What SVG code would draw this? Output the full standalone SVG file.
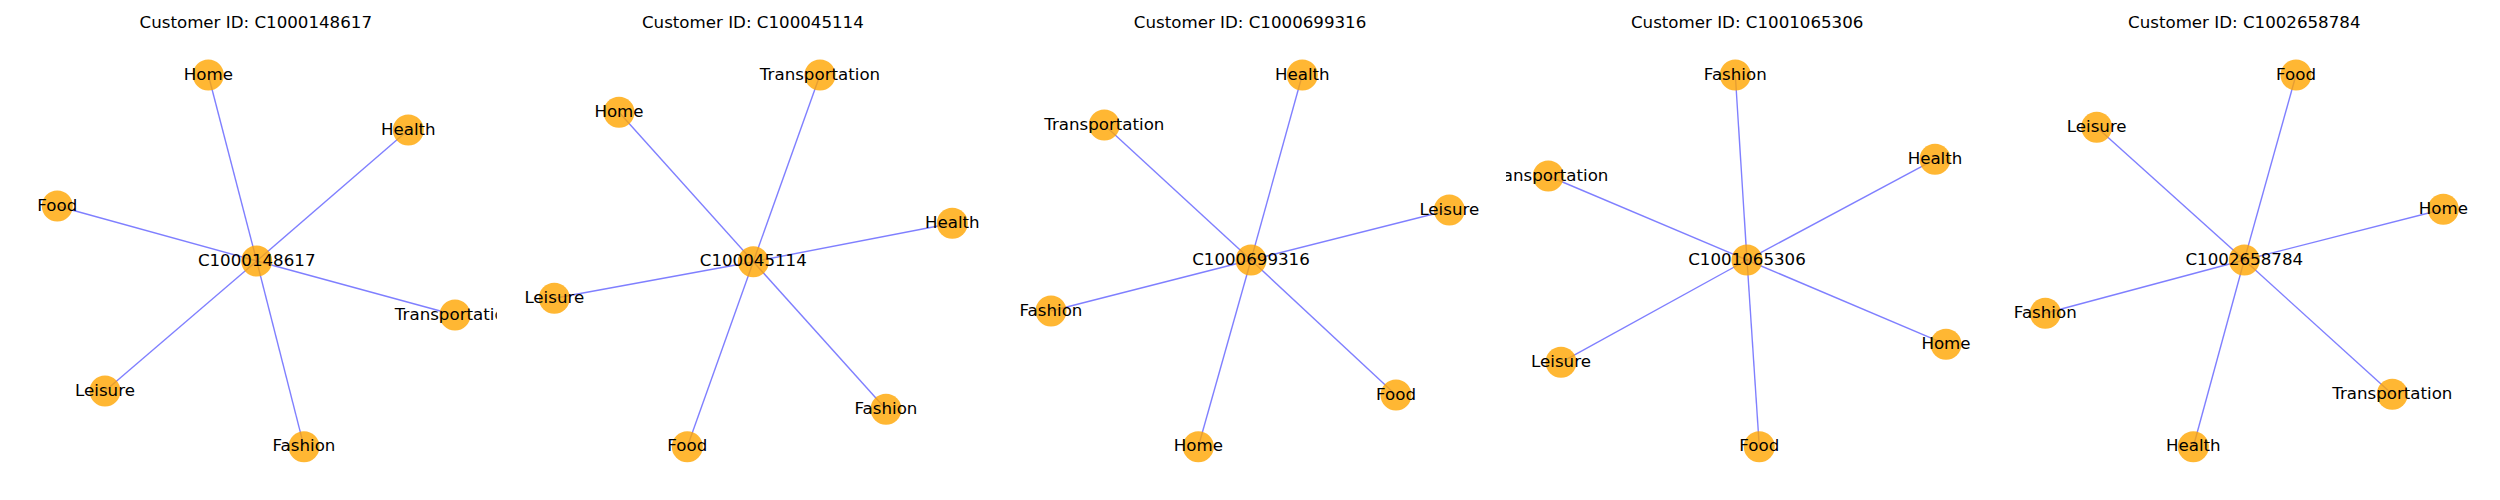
<svg xmlns="http://www.w3.org/2000/svg" width="2500" height="500" viewBox="0 0 2500 500">
<style>
text{font-family:"DejaVu Sans","Liberation Sans",sans-serif;font-size:16.67px;fill:#000;text-anchor:middle}
.e{stroke:#0000ff;stroke-opacity:0.5;stroke-width:1.4;fill:none}
.n{fill:#ffa500;fill-opacity:0.8}
</style>
<defs>
<clipPath id="c1"><rect x="14.8" y="0" width="482" height="500"/></clipPath>
<clipPath id="c2"><rect x="511.9" y="0" width="482" height="500"/></clipPath>
<clipPath id="c3"><rect x="1009" y="0" width="482" height="500"/></clipPath>
<clipPath id="c4"><rect x="1506.1" y="0" width="482" height="500"/></clipPath>
<clipPath id="c5"><rect x="2003.2" y="0" width="482" height="500"/></clipPath>
</defs>
<rect width="2500" height="500" fill="#fff"/>
<g id="titles">
<text x="255.8" y="28.3">Customer ID: C1000148617</text>
<text x="752.9" y="28.3">Customer ID: C100045114</text>
<text x="1250.1" y="28.3">Customer ID: C1000699316</text>
<text x="1747.2" y="28.3">Customer ID: C1001065306</text>
<text x="2244.3" y="28.3">Customer ID: C1002658784</text>
</g>
<g id="connectors">
<line class="e" x1="256.7" y1="261" x2="208.3" y2="75"/>
<line class="e" x1="256.7" y1="261" x2="408.3" y2="130"/>
<line class="e" x1="256.7" y1="261" x2="57.3" y2="206"/>
<line class="e" x1="256.7" y1="261" x2="455" y2="315"/>
<line class="e" x1="256.7" y1="261" x2="105" y2="391"/>
<line class="e" x1="256.7" y1="261" x2="304" y2="446.7"/>

<line class="e" x1="753.3" y1="261.7" x2="820" y2="75"/>
<line class="e" x1="753.3" y1="261.7" x2="619" y2="112.3"/>
<line class="e" x1="753.3" y1="261.7" x2="952.3" y2="223.3"/>
<line class="e" x1="753.3" y1="261.7" x2="554.3" y2="298.3"/>
<line class="e" x1="753.3" y1="261.7" x2="886" y2="409.3"/>
<line class="e" x1="753.3" y1="261.7" x2="687.3" y2="446.7"/>

<line class="e" x1="1251" y1="260" x2="1302.3" y2="75"/>
<line class="e" x1="1251" y1="260" x2="1104.3" y2="125"/>
<line class="e" x1="1251" y1="260" x2="1449.3" y2="210"/>
<line class="e" x1="1251" y1="260" x2="1051" y2="311"/>
<line class="e" x1="1251" y1="260" x2="1396" y2="395"/>
<line class="e" x1="1251" y1="260" x2="1198.3" y2="446.7"/>

<line class="e" x1="1747" y1="260" x2="1735.3" y2="75"/>
<line class="e" x1="1747" y1="260" x2="1935" y2="159.3"/>
<line class="e" x1="1747" y1="260" x2="1548.3" y2="176"/>
<line class="e" x1="1747" y1="260" x2="1946" y2="344.3"/>
<line class="e" x1="1747" y1="260" x2="1561" y2="362.3"/>
<line class="e" x1="1747" y1="260" x2="1759.3" y2="446.7"/>

<line class="e" x1="2244.3" y1="260" x2="2296" y2="75"/>
<line class="e" x1="2244.3" y1="260" x2="2096.7" y2="127.3"/>
<line class="e" x1="2244.3" y1="260" x2="2443.3" y2="209.3"/>
<line class="e" x1="2244.3" y1="260" x2="2045.3" y2="313.3"/>
<line class="e" x1="2244.3" y1="260" x2="2392.3" y2="394.3"/>
<line class="e" x1="2244.3" y1="260" x2="2193.3" y2="446.7"/>
</g>

<g id="panel1" clip-path="url(#c1)">
<g id="p1-center"><circle class="n" cx="256.7" cy="261" r="15.5"/><text x="256.7" y="265.6">C1000148617</text></g>
<g id="p1-home"><circle class="n" cx="208.3" cy="75" r="15.5"/><text x="208.3" y="79.6">Home</text></g>
<g id="p1-health"><circle class="n" cx="408.3" cy="130" r="15.5"/><text x="408.3" y="134.6">Health</text></g>
<g id="p1-food"><circle class="n" cx="57.3" cy="206" r="15.5"/><text x="57.3" y="210.6">Food</text></g>
<g id="p1-transportation"><circle class="n" cx="455" cy="315" r="15.5"/><text x="455" y="319.6">Transportation</text></g>
<g id="p1-leisure"><circle class="n" cx="105" cy="391" r="15.5"/><text x="105" y="395.6">Leisure</text></g>
<g id="p1-fashion"><circle class="n" cx="304" cy="446.7" r="15.5"/><text x="304" y="451.3">Fashion</text></g>
</g>

<g id="panel2" clip-path="url(#c2)">
<g id="p2-center"><circle class="n" cx="753.3" cy="261.7" r="15.5"/><text x="753.3" y="266.3">C100045114</text></g>
<g id="p2-transportation"><circle class="n" cx="820" cy="75" r="15.5"/><text x="820" y="79.6">Transportation</text></g>
<g id="p2-home"><circle class="n" cx="619" cy="112.3" r="15.5"/><text x="619" y="116.9">Home</text></g>
<g id="p2-health"><circle class="n" cx="952.3" cy="223.3" r="15.5"/><text x="952.3" y="227.9">Health</text></g>
<g id="p2-leisure"><circle class="n" cx="554.3" cy="298.3" r="15.5"/><text x="554.3" y="302.9">Leisure</text></g>
<g id="p2-fashion"><circle class="n" cx="886" cy="409.3" r="15.5"/><text x="886" y="413.9">Fashion</text></g>
<g id="p2-food"><circle class="n" cx="687.3" cy="446.7" r="15.5"/><text x="687.3" y="451.3">Food</text></g>
</g>

<g id="panel3" clip-path="url(#c3)">
<g id="p3-center"><circle class="n" cx="1251" cy="260" r="15.5"/><text x="1251" y="264.6">C1000699316</text></g>
<g id="p3-health"><circle class="n" cx="1302.3" cy="75" r="15.5"/><text x="1302.3" y="79.6">Health</text></g>
<g id="p3-transportation"><circle class="n" cx="1104.3" cy="125" r="15.5"/><text x="1104.3" y="129.6">Transportation</text></g>
<g id="p3-leisure"><circle class="n" cx="1449.3" cy="210" r="15.5"/><text x="1449.3" y="214.6">Leisure</text></g>
<g id="p3-fashion"><circle class="n" cx="1051" cy="311" r="15.5"/><text x="1051" y="315.6">Fashion</text></g>
<g id="p3-food"><circle class="n" cx="1396" cy="395" r="15.5"/><text x="1396" y="399.6">Food</text></g>
<g id="p3-home"><circle class="n" cx="1198.3" cy="446.7" r="15.5"/><text x="1198.3" y="451.3">Home</text></g>
</g>

<g id="panel4" clip-path="url(#c4)">
<g id="p4-center"><circle class="n" cx="1747" cy="260" r="15.5"/><text x="1747" y="264.6">C1001065306</text></g>
<g id="p4-fashion"><circle class="n" cx="1735.3" cy="75" r="15.5"/><text x="1735.3" y="79.6">Fashion</text></g>
<g id="p4-health"><circle class="n" cx="1935" cy="159.3" r="15.5"/><text x="1935" y="163.9">Health</text></g>
<g id="p4-transportation"><circle class="n" cx="1548.3" cy="176" r="15.5"/><text x="1548.3" y="180.6">Transportation</text></g>
<g id="p4-home"><circle class="n" cx="1946" cy="344.3" r="15.5"/><text x="1946" y="348.9">Home</text></g>
<g id="p4-leisure"><circle class="n" cx="1561" cy="362.3" r="15.5"/><text x="1561" y="366.9">Leisure</text></g>
<g id="p4-food"><circle class="n" cx="1759.3" cy="446.7" r="15.5"/><text x="1759.3" y="451.3">Food</text></g>
</g>

<g id="panel5" clip-path="url(#c5)">
<g id="p5-center"><circle class="n" cx="2244.3" cy="260" r="15.5"/><text x="2244.3" y="264.6">C1002658784</text></g>
<g id="p5-food"><circle class="n" cx="2296" cy="75" r="15.5"/><text x="2296" y="79.6">Food</text></g>
<g id="p5-leisure"><circle class="n" cx="2096.7" cy="127.3" r="15.5"/><text x="2096.7" y="131.9">Leisure</text></g>
<g id="p5-home"><circle class="n" cx="2443.3" cy="209.3" r="15.5"/><text x="2443.3" y="213.9">Home</text></g>
<g id="p5-fashion"><circle class="n" cx="2045.3" cy="313.3" r="15.5"/><text x="2045.3" y="317.9">Fashion</text></g>
<g id="p5-transportation"><circle class="n" cx="2392.3" cy="394.3" r="15.5"/><text x="2392.3" y="398.9">Transportation</text></g>
<g id="p5-health"><circle class="n" cx="2193.3" cy="446.7" r="15.5"/><text x="2193.3" y="451.3">Health</text></g>
</g>
</svg>
